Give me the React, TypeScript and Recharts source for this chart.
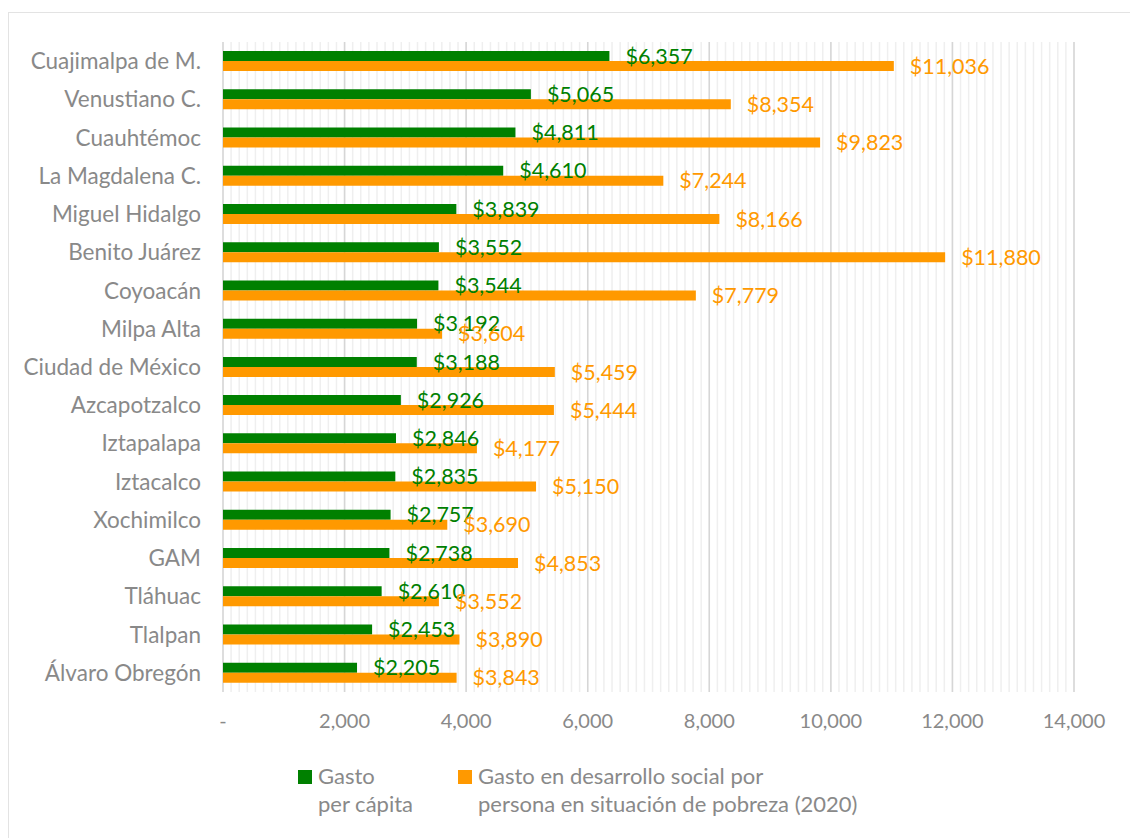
import { BarChart, Bar, XAxis, YAxis, CartesianGrid, LabelList } from 'recharts';

const alcaldias = [
  'Cuajimalpa de M.', 'Venustiano C.', 'Cuauhtémoc', 'La Magdalena C.', 'Miguel Hidalgo',
  'Benito Juárez', 'Coyoacán', 'Milpa Alta', 'Ciudad de México', 'Azcapotzalco',
  'Iztapalapa', 'Iztacalco', 'Xochimilco', 'GAM', 'Tláhuac', 'Tlalpan', 'Álvaro Obregón',
];
const gastoPerCapita = [6357, 5065, 4811, 4610, 3839, 3552, 3544, 3192, 3188, 2926, 2846, 2835, 2757, 2738, 2610, 2453, 2205];
const gastoPobreza = [11036, 8354, 9823, 7244, 8166, 11880, 7779, 3604, 5459, 5444, 4177, 5150, 3690, 4853, 3552, 3890, 3843];
const xTicks = [0, 2000, 4000, 6000, 8000, 10000, 12000, 14000];

const GREEN = '#008000';
const ORANGE = '#FF9900';
const GREY_TEXT = '#898989';
const FONT = 'Lato, "Open Sans", sans-serif';

const data = alcaldias.map((name, i) => ({
  name,
  perCapita: gastoPerCapita[i],
  pobreza: gastoPobreza[i],
}));

const money = (v: number) => '$' + v.toLocaleString('en-US');
const tickFmt = (v: number) => (v === 0 ? '-' : v.toLocaleString('en-US'));

// 15 minor lines between each major tick
const minorLines = ({ offset }: any) => {
  const n = (xTicks.length - 1) * 15;
  const out: number[] = [];
  for (let i = 0; i <= n; i++) out.push(offset.left + (offset.width * i) / n);
  return out;
};

function LegendItem({ color, lines, left }: { color: string; lines: string[]; left: number }) {
  return (
    <div style={{ position: 'absolute', left, top: 762, display: 'flex', alignItems: 'flex-start' }}>
      <div style={{ width: 14, height: 14, background: color, marginTop: 8, marginRight: 6 }} />
      <div style={{ lineHeight: '28px', whiteSpace: 'nowrap' }}>
        {lines.map((l) => (
          <div key={l}>{l}</div>
        ))}
      </div>
    </div>
  );
}

export default function App() {
  return (
    <div style={{ position: 'absolute', left: 0, top: 0, width: 1130, height: 838, background: '#fff', overflow: 'hidden', fontFamily: FONT }}>
      <div style={{ position: 'absolute', left: 8, top: 12, width: 1200, height: 900, border: '1px solid #e3e3e3' }} />
      <BarChart
        width={1130}
        height={838}
        data={data}
        layout="vertical"
        margin={{ top: 42, right: 56, bottom: 106, left: 0 }}
        barSize={10}
        barGap={0}
        style={{ position: 'absolute', left: 0, top: 0 }}
      >
        <CartesianGrid horizontal={false} stroke="#efefef" strokeWidth={1.5} verticalCoordinatesGenerator={minorLines} />
        <CartesianGrid horizontal={false} stroke="#d6d6d6" strokeWidth={1.5} />
        <XAxis
          type="number"
          domain={[0, 14000]}
          ticks={xTicks}
          tickFormatter={tickFmt}
          axisLine={false}
          tickLine={false}
          tickSize={0}
          tickMargin={22}
          height={40}
          tick={{ fill: GREY_TEXT, fontSize: 20, fontFamily: FONT }}
          interval={0}
        />
        <YAxis
          type="category"
          dataKey="name"
          width={223}
          axisLine={false}
          tickLine={false}
          tickSize={0}
          tickMargin={22}
          interval={0}
          tick={{ fill: GREY_TEXT, fontSize: 22.5, fontFamily: FONT }}
        />
        <Bar dataKey="perCapita" fill={GREEN} isAnimationActive={false}>
          <LabelList dataKey="perCapita" position="right" offset={16} formatter={money} fill={GREEN} fontSize={21.5} fontFamily={FONT} />
        </Bar>
        <Bar dataKey="pobreza" fill={ORANGE} isAnimationActive={false}>
          <LabelList dataKey="pobreza" position="right" offset={16} formatter={money} fill={ORANGE} fontSize={21.5} fontFamily={FONT} />
        </Bar>
      </BarChart>
      <div style={{ color: GREY_TEXT, fontSize: 22 }}>
        <LegendItem left={298} color={GREEN} lines={['Gasto', 'per cápita']} />
        <LegendItem left={458} color={ORANGE} lines={['Gasto en desarrollo social por', 'persona en situación de pobreza (2020)']} />
      </div>
    </div>
  );
}
